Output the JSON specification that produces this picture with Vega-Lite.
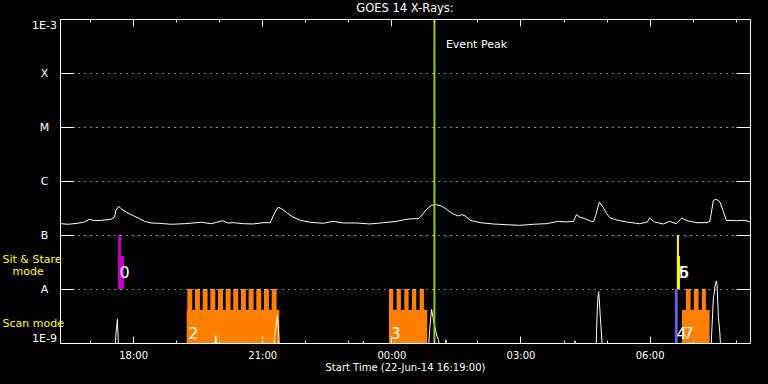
{
  "$schema": "https://vega.github.io/schema/vega-lite/v6.json",
  "autosize": {"type": "none"},
  "width": 690,
  "height": 324,
  "padding": {"left": 60, "top": 19, "right": 18, "bottom": 41},
  "background": "black",
  "title": {"text": "GOES 14 X-Rays:", "color": "white", "font": "DejaVu Sans", "fontSize": 11.5, "fontWeight": "normal", "frame": "group", "anchor": "middle", "offset": 4},
  "config": {
    "view": {"stroke": null},
    "axis": {"domainColor": "white", "tickColor": "white", "labelColor": "white", "labelFont": "DejaVu Sans", "titleFont": "DejaVu Sans", "titleColor": "white", "titleFontWeight": "normal", "domainWidth": 1, "tickWidth": 1}
  },
  "datasets": {
    "goes_long": [
      {"t": "2014-06-22T16:19:00Z", "f": 1.62e-7},
      {"t": "2014-06-22T16:29:00Z", "f": 1.58e-7},
      {"t": "2014-06-22T16:43:00Z", "f": 1.65e-7},
      {"t": "2014-06-22T16:52:00Z", "f": 1.74e-7},
      {"t": "2014-06-22T16:59:00Z", "f": 1.95e-7},
      {"t": "2014-06-22T17:06:00Z", "f": 1.84e-7},
      {"t": "2014-06-22T17:16:00Z", "f": 1.87e-7},
      {"t": "2014-06-22T17:29:00Z", "f": 1.95e-7},
      {"t": "2014-06-22T17:34:00Z", "f": 2.15e-7},
      {"t": "2014-06-22T17:36:00Z", "f": 2.86e-7},
      {"t": "2014-06-22T17:40:00Z", "f": 3.40e-7},
      {"t": "2014-06-22T17:43:00Z", "f": 3.07e-7},
      {"t": "2014-06-22T17:50:00Z", "f": 2.67e-7},
      {"t": "2014-06-22T17:57:00Z", "f": 2.38e-7},
      {"t": "2014-06-22T18:07:00Z", "f": 2.07e-7},
      {"t": "2014-06-22T18:16:00Z", "f": 1.79e-7},
      {"t": "2014-06-22T18:25:00Z", "f": 1.67e-7},
      {"t": "2014-06-22T18:35:00Z", "f": 1.65e-7},
      {"t": "2014-06-22T18:53:00Z", "f": 1.58e-7},
      {"t": "2014-06-22T19:12:00Z", "f": 1.62e-7},
      {"t": "2014-06-22T19:35:00Z", "f": 1.72e-7},
      {"t": "2014-06-22T19:49:00Z", "f": 1.62e-7},
      {"t": "2014-06-22T20:05:00Z", "f": 1.84e-7},
      {"t": "2014-06-22T20:12:00Z", "f": 1.67e-7},
      {"t": "2014-06-22T20:20:00Z", "f": 1.69e-7},
      {"t": "2014-06-22T20:33:00Z", "f": 1.62e-7},
      {"t": "2014-06-22T20:47:00Z", "f": 1.60e-7},
      {"t": "2014-06-22T21:01:00Z", "f": 1.69e-7},
      {"t": "2014-06-22T21:11:00Z", "f": 1.69e-7},
      {"t": "2014-06-22T21:14:00Z", "f": 2.07e-7},
      {"t": "2014-06-22T21:18:00Z", "f": 2.67e-7},
      {"t": "2014-06-22T21:22:00Z", "f": 3.26e-7},
      {"t": "2014-06-22T21:27:00Z", "f": 3.07e-7},
      {"t": "2014-06-22T21:34:00Z", "f": 2.59e-7},
      {"t": "2014-06-22T21:43:00Z", "f": 2.15e-7},
      {"t": "2014-06-22T21:53:00Z", "f": 1.87e-7},
      {"t": "2014-06-22T22:06:00Z", "f": 1.72e-7},
      {"t": "2014-06-22T22:25:00Z", "f": 1.65e-7},
      {"t": "2014-06-22T22:39:00Z", "f": 1.79e-7},
      {"t": "2014-06-22T22:53:00Z", "f": 1.67e-7},
      {"t": "2014-06-22T23:12:00Z", "f": 1.67e-7},
      {"t": "2014-06-22T23:30:00Z", "f": 1.60e-7},
      {"t": "2014-06-22T23:49:00Z", "f": 1.69e-7},
      {"t": "2014-06-23T00:07:00Z", "f": 1.79e-7},
      {"t": "2014-06-23T00:17:00Z", "f": 1.90e-7},
      {"t": "2014-06-23T00:26:00Z", "f": 2.00e-7},
      {"t": "2014-06-23T00:37:00Z", "f": 2.00e-7},
      {"t": "2014-06-23T00:42:00Z", "f": 2.25e-7},
      {"t": "2014-06-23T00:49:00Z", "f": 2.99e-7},
      {"t": "2014-06-23T00:56:00Z", "f": 3.55e-7},
      {"t": "2014-06-23T01:03:00Z", "f": 3.64e-7},
      {"t": "2014-06-23T01:10:00Z", "f": 3.44e-7},
      {"t": "2014-06-23T01:17:00Z", "f": 2.99e-7},
      {"t": "2014-06-23T01:26:00Z", "f": 2.45e-7},
      {"t": "2014-06-23T01:33:00Z", "f": 2.25e-7},
      {"t": "2014-06-23T01:38:00Z", "f": 2.38e-7},
      {"t": "2014-06-23T01:43:00Z", "f": 2.25e-7},
      {"t": "2014-06-23T01:50:00Z", "f": 1.87e-7},
      {"t": "2014-06-23T02:04:00Z", "f": 1.69e-7},
      {"t": "2014-06-23T02:22:00Z", "f": 1.60e-7},
      {"t": "2014-06-23T02:41:00Z", "f": 1.55e-7},
      {"t": "2014-06-23T02:59:00Z", "f": 1.51e-7},
      {"t": "2014-06-23T03:18:00Z", "f": 1.58e-7},
      {"t": "2014-06-23T03:36:00Z", "f": 1.62e-7},
      {"t": "2014-06-23T03:53:00Z", "f": 1.79e-7},
      {"t": "2014-06-23T04:04:00Z", "f": 1.74e-7},
      {"t": "2014-06-23T04:14:00Z", "f": 1.79e-7},
      {"t": "2014-06-23T04:18:00Z", "f": 2.38e-7},
      {"t": "2014-06-23T04:23:00Z", "f": 2.13e-7},
      {"t": "2014-06-23T04:30:00Z", "f": 2.00e-7},
      {"t": "2014-06-23T04:39:00Z", "f": 1.79e-7},
      {"t": "2014-06-23T04:42:00Z", "f": 1.79e-7},
      {"t": "2014-06-23T04:45:00Z", "f": 2.32e-7},
      {"t": "2014-06-23T04:50:00Z", "f": 4.08e-7},
      {"t": "2014-06-23T04:55:00Z", "f": 3.30e-7},
      {"t": "2014-06-23T05:00:00Z", "f": 2.48e-7},
      {"t": "2014-06-23T05:05:00Z", "f": 2.07e-7},
      {"t": "2014-06-23T05:14:00Z", "f": 1.90e-7},
      {"t": "2014-06-23T05:28:00Z", "f": 1.74e-7},
      {"t": "2014-06-23T05:46:00Z", "f": 1.62e-7},
      {"t": "2014-06-23T05:57:00Z", "f": 1.74e-7},
      {"t": "2014-06-23T06:00:00Z", "f": 2.07e-7},
      {"t": "2014-06-23T06:07:00Z", "f": 1.74e-7},
      {"t": "2014-06-23T06:19:00Z", "f": 1.60e-7},
      {"t": "2014-06-23T06:28:00Z", "f": 1.79e-7},
      {"t": "2014-06-23T06:37:00Z", "f": 1.62e-7},
      {"t": "2014-06-23T06:45:00Z", "f": 2.07e-7},
      {"t": "2014-06-23T06:52:00Z", "f": 1.84e-7},
      {"t": "2014-06-23T07:06:00Z", "f": 1.69e-7},
      {"t": "2014-06-23T07:20:00Z", "f": 1.69e-7},
      {"t": "2014-06-23T07:24:00Z", "f": 1.79e-7},
      {"t": "2014-06-23T07:29:00Z", "f": 4.40e-7},
      {"t": "2014-06-23T07:33:00Z", "f": 4.58e-7},
      {"t": "2014-06-23T07:38:00Z", "f": 4.08e-7},
      {"t": "2014-06-23T07:43:00Z", "f": 2.67e-7},
      {"t": "2014-06-23T07:47:00Z", "f": 1.87e-7},
      {"t": "2014-06-23T08:01:00Z", "f": 1.84e-7},
      {"t": "2014-06-23T08:13:00Z", "f": 1.87e-7},
      {"t": "2014-06-23T08:20:00Z", "f": 1.74e-7}
    ],
    "goes_short": [
      {"t": "2014-06-22T16:19:00Z", "f": 5e-10},
      {"t": "2014-06-22T17:34:00Z", "f": 5e-10},
      {"t": "2014-06-22T17:36:00Z", "f": 1.5e-9},
      {"t": "2014-06-22T17:37:00Z", "f": 2.0e-9},
      {"t": "2014-06-22T17:38:00Z", "f": 2.75e-9},
      {"t": "2014-06-22T17:39:00Z", "f": 1.3e-9},
      {"t": "2014-06-22T17:40:00Z", "f": 5e-10},
      {"t": "2014-06-22T19:53:00Z", "f": 5e-10},
      {"t": "2014-06-22T19:55:00Z", "f": 1.41e-9},
      {"t": "2014-06-22T19:56:00Z", "f": 1.1e-9},
      {"t": "2014-06-22T19:57:00Z", "f": 5e-10},
      {"t": "2014-06-22T21:15:00Z", "f": 5e-10},
      {"t": "2014-06-22T21:17:00Z", "f": 1.3e-9},
      {"t": "2014-06-22T21:19:00Z", "f": 2.0e-9},
      {"t": "2014-06-22T21:20:00Z", "f": 2.6e-9},
      {"t": "2014-06-22T21:21:00Z", "f": 3.16e-9},
      {"t": "2014-06-22T21:22:00Z", "f": 2.2e-9},
      {"t": "2014-06-22T21:23:00Z", "f": 1.5e-9},
      {"t": "2014-06-22T21:24:00Z", "f": 5e-10},
      {"t": "2014-06-22T23:20:00Z", "f": 5e-10},
      {"t": "2014-06-22T23:21:00Z", "f": 1.07e-9},
      {"t": "2014-06-22T23:22:00Z", "f": 5e-10},
      {"t": "2014-06-23T00:51:00Z", "f": 5e-10},
      {"t": "2014-06-23T00:53:00Z", "f": 1.5e-9},
      {"t": "2014-06-23T00:55:00Z", "f": 3.0e-9},
      {"t": "2014-06-23T00:56:00Z", "f": 4.2e-9},
      {"t": "2014-06-23T00:58:00Z", "f": 3.0e-9},
      {"t": "2014-06-23T01:00:00Z", "f": 2.2e-9},
      {"t": "2014-06-23T01:02:00Z", "f": 1.6e-9},
      {"t": "2014-06-23T01:04:00Z", "f": 1.3e-9},
      {"t": "2014-06-23T01:06:00Z", "f": 1.1e-9},
      {"t": "2014-06-23T01:08:00Z", "f": 5e-10},
      {"t": "2014-06-23T01:15:00Z", "f": 5e-10},
      {"t": "2014-06-23T01:16:00Z", "f": 1.15e-9},
      {"t": "2014-06-23T01:17:00Z", "f": 5e-10},
      {"t": "2014-06-23T04:15:00Z", "f": 5e-10},
      {"t": "2014-06-23T04:16:00Z", "f": 1.1e-9},
      {"t": "2014-06-23T04:17:00Z", "f": 5e-10},
      {"t": "2014-06-23T04:45:00Z", "f": 5e-10},
      {"t": "2014-06-23T04:46:00Z", "f": 1.5e-9},
      {"t": "2014-06-23T04:47:00Z", "f": 4e-9},
      {"t": "2014-06-23T04:48:00Z", "f": 7e-9},
      {"t": "2014-06-23T04:49:00Z", "f": 8.9e-9},
      {"t": "2014-06-23T04:50:00Z", "f": 6e-9},
      {"t": "2014-06-23T04:51:00Z", "f": 3.5e-9},
      {"t": "2014-06-23T04:52:00Z", "f": 2.2e-9},
      {"t": "2014-06-23T04:53:00Z", "f": 1.4e-9},
      {"t": "2014-06-23T04:55:00Z", "f": 5e-10},
      {"t": "2014-06-23T07:25:00Z", "f": 5e-10},
      {"t": "2014-06-23T07:27:00Z", "f": 2e-9},
      {"t": "2014-06-23T07:29:00Z", "f": 7e-9},
      {"t": "2014-06-23T07:30:00Z", "f": 8e-9},
      {"t": "2014-06-23T07:31:00Z", "f": 1.1e-8},
      {"t": "2014-06-23T07:33:00Z", "f": 1.41e-8},
      {"t": "2014-06-23T07:34:00Z", "f": 1.2e-8},
      {"t": "2014-06-23T07:35:00Z", "f": 6e-9},
      {"t": "2014-06-23T07:36:00Z", "f": 3e-9},
      {"t": "2014-06-23T07:38:00Z", "f": 1.5e-9},
      {"t": "2014-06-23T07:40:00Z", "f": 5e-10},
      {"t": "2014-06-23T08:20:00Z", "f": 5e-10}
    ],
    "obs": [
      {"t": "2014-06-22T17:39:00Z", "t2": "2014-06-22T17:43:00Z", "f": 1e-8, "f2": 1e-7, "grp": "sit1"},
      {"t": "2014-06-22T17:39:00Z", "t2": "2014-06-22T17:47:12Z", "f": 1e-8, "f2": 4.08e-8, "grp": "sit1"},
      {"t": "2014-06-22T19:14:36Z", "t2": "2014-06-22T21:23:42Z", "f": 1e-9, "f2": 4.08e-9, "grp": "scan"},
      {"t": "2014-06-22T19:15:30Z", "t2": "2014-06-22T19:22:24Z", "f": 1e-9, "f2": 1e-8, "grp": "scan"},
      {"t": "2014-06-22T19:26:12Z", "t2": "2014-06-22T19:33:06Z", "f": 1e-9, "f2": 1e-8, "grp": "scan"},
      {"t": "2014-06-22T19:36:54Z", "t2": "2014-06-22T19:43:48Z", "f": 1e-9, "f2": 1e-8, "grp": "scan"},
      {"t": "2014-06-22T19:47:36Z", "t2": "2014-06-22T19:54:30Z", "f": 1e-9, "f2": 1e-8, "grp": "scan"},
      {"t": "2014-06-22T19:58:18Z", "t2": "2014-06-22T20:05:12Z", "f": 1e-9, "f2": 1e-8, "grp": "scan"},
      {"t": "2014-06-22T20:09:00Z", "t2": "2014-06-22T20:15:54Z", "f": 1e-9, "f2": 1e-8, "grp": "scan"},
      {"t": "2014-06-22T20:19:36Z", "t2": "2014-06-22T20:26:30Z", "f": 1e-9, "f2": 1e-8, "grp": "scan"},
      {"t": "2014-06-22T20:30:18Z", "t2": "2014-06-22T20:37:12Z", "f": 1e-9, "f2": 1e-8, "grp": "scan"},
      {"t": "2014-06-22T20:41:00Z", "t2": "2014-06-22T20:47:54Z", "f": 1e-9, "f2": 1e-8, "grp": "scan"},
      {"t": "2014-06-22T20:51:42Z", "t2": "2014-06-22T20:58:36Z", "f": 1e-9, "f2": 1e-8, "grp": "scan"},
      {"t": "2014-06-22T21:02:24Z", "t2": "2014-06-22T21:09:18Z", "f": 1e-9, "f2": 1e-8, "grp": "scan"},
      {"t": "2014-06-22T21:13:06Z", "t2": "2014-06-22T21:20:00Z", "f": 1e-9, "f2": 1e-8, "grp": "scan"},
      {"t": "2014-06-22T23:56:36Z", "t2": "2014-06-23T00:50:00Z", "f": 1e-9, "f2": 4.08e-9, "grp": "scan"},
      {"t": "2014-06-22T23:56:36Z", "t2": "2014-06-23T00:02:36Z", "f": 1e-9, "f2": 1e-8, "grp": "scan"},
      {"t": "2014-06-23T00:07:18Z", "t2": "2014-06-23T00:13:18Z", "f": 1e-9, "f2": 1e-8, "grp": "scan"},
      {"t": "2014-06-23T00:18:00Z", "t2": "2014-06-23T00:24:00Z", "f": 1e-9, "f2": 1e-8, "grp": "scan"},
      {"t": "2014-06-23T00:28:42Z", "t2": "2014-06-23T00:34:42Z", "f": 1e-9, "f2": 1e-8, "grp": "scan"},
      {"t": "2014-06-23T00:39:24Z", "t2": "2014-06-23T00:45:24Z", "f": 1e-9, "f2": 1e-8, "grp": "scan"},
      {"t": "2014-06-23T06:35:18Z", "t2": "2014-06-23T06:39:06Z", "f": 1e-9, "f2": 1e-8, "grp": "other"},
      {"t": "2014-06-23T06:38:06Z", "t2": "2014-06-23T06:40:54Z", "f": 1e-8, "f2": 1e-7, "grp": "sit2"},
      {"t": "2014-06-23T06:38:06Z", "t2": "2014-06-23T06:42:18Z", "f": 1e-8, "f2": 4.08e-8, "grp": "sit2"},
      {"t": "2014-06-23T06:45:06Z", "t2": "2014-06-23T07:23:42Z", "f": 1e-9, "f2": 4.08e-9, "grp": "scan"},
      {"t": "2014-06-23T06:50:36Z", "t2": "2014-06-23T06:57:12Z", "f": 1e-9, "f2": 1e-8, "grp": "scan"},
      {"t": "2014-06-23T07:01:48Z", "t2": "2014-06-23T07:08:18Z", "f": 1e-9, "f2": 1e-8, "grp": "scan"},
      {"t": "2014-06-23T07:12:54Z", "t2": "2014-06-23T07:18:30Z", "f": 1e-9, "f2": 1e-8, "grp": "scan"}
    ],
    "labels": [
      {"t": "2014-06-22T17:39:00Z", "txt": "0", "mode": "sit"},
      {"t": "2014-06-22T19:14:36Z", "txt": "2", "mode": "scan"},
      {"t": "2014-06-22T23:56:36Z", "txt": "3", "mode": "scan"},
      {"t": "2014-06-23T06:35:18Z", "txt": "4", "mode": "scan"},
      {"t": "2014-06-23T06:38:06Z", "txt": "5", "mode": "sit"},
      {"t": "2014-06-23T06:39:00Z", "txt": "6", "mode": "sit"},
      {"t": "2014-06-23T06:45:06Z", "txt": "7", "mode": "scan"}
    ],
    "event": [
      {"t": "2014-06-23T01:00:00Z", "label": "Event Peak"}
    ]
  },
  "encoding": {
    "x": {
      "field": "t", "type": "temporal",
      "scale": {"type": "utc", "nice": false, "domain": [
        {"year": 2014, "month": 6, "date": 22, "hours": 16, "minutes": 18, "utc": true},
        {"year": 2014, "month": 6, "date": 23, "hours": 8, "minutes": 20, "utc": true}
      ]},
      "axis": null
    }
  },
  "layer": [
    {
      "data": {"name": "obs"},
      "mark": {"type": "rect", "strokeWidth": 0},
      "encoding": {
        "x2": {"field": "t2"},
        "y": {"field": "f", "type": "quantitative", "scale": {"type": "log", "domain": [1e-9, 1e-3], "nice": false}, "axis": null},
        "y2": {"field": "f2"},
        "color": {"field": "grp", "type": "nominal", "legend": null, "scale": {"domain": ["sit1", "scan", "other", "sit2"], "range": ["#c800c8", "#ff8000", "#6464f0", "#ffff00"]}}
      }
    },
    {
      "data": {"name": "goes_long"},
      "mark": {"type": "line", "color": "white", "strokeWidth": 1, "clip": true},
      "encoding": {
        "x": {
          "field": "t", "type": "temporal",
          "scale": {"type": "utc", "nice": false, "domain": [
            {"year": 2014, "month": 6, "date": 22, "hours": 16, "minutes": 18, "utc": true},
            {"year": 2014, "month": 6, "date": 23, "hours": 8, "minutes": 20, "utc": true}
          ]},
          "axis": {
            "orient": "bottom",
            "zindex": 1,
            "values": [
              {"year": 2014, "month": 6, "date": 22, "hours": 17, "utc": true},
              {"year": 2014, "month": 6, "date": 22, "hours": 18, "utc": true},
              {"year": 2014, "month": 6, "date": 22, "hours": 19, "utc": true},
              {"year": 2014, "month": 6, "date": 22, "hours": 20, "utc": true},
              {"year": 2014, "month": 6, "date": 22, "hours": 21, "utc": true},
              {"year": 2014, "month": 6, "date": 22, "hours": 22, "utc": true},
              {"year": 2014, "month": 6, "date": 22, "hours": 23, "utc": true},
              {"year": 2014, "month": 6, "date": 23, "hours": 0, "utc": true},
              {"year": 2014, "month": 6, "date": 23, "hours": 1, "utc": true},
              {"year": 2014, "month": 6, "date": 23, "hours": 2, "utc": true},
              {"year": 2014, "month": 6, "date": 23, "hours": 3, "utc": true},
              {"year": 2014, "month": 6, "date": 23, "hours": 4, "utc": true},
              {"year": 2014, "month": 6, "date": 23, "hours": 5, "utc": true},
              {"year": 2014, "month": 6, "date": 23, "hours": 6, "utc": true},
              {"year": 2014, "month": 6, "date": 23, "hours": 7, "utc": true},
              {"year": 2014, "month": 6, "date": 23, "hours": 8, "utc": true}
            ],
            "labelExpr": "utchours(datum.value) % 3 == 0 ? utcFormat(datum.value, '%H:%M') : ''",
            "tickSize": {"condition": {"test": "utchours(datum.value) % 3 == 0", "value": -7}, "value": -3},
            "labelPadding": 14,
            "labelFontSize": 10,
            "labelFlush": false,
            "labelOverlap": false,
            "grid": false,
            "title": "Start Time (22-Jun-14 16:19:00)",
            "titleFontSize": 10,
            "titlePadding": -2
          }
        },
        "y": {
          "field": "f", "type": "quantitative",
          "scale": {"type": "log", "domain": [1e-9, 1e-3], "nice": false},
          "axis": {
            "orient": "left",
            "zindex": 1,
            "title": null,
            "values": [1e-9, 2.25e-9, 1e-8, 2.15e-8, 3.59e-8, 1e-7, 1e-6, 1e-5, 1e-4, 1e-3],
            "labelExpr": "datum.value < 1.5e-9 ? '1E-9' : datum.value < 5e-9 ? 'Scan mode' : datum.value < 1.5e-8 ? 'A' : datum.value < 3e-8 ? 'mode' : datum.value < 5e-8 ? 'Sit & Stare' : datum.value < 1.5e-7 ? 'B' : datum.value < 1.5e-6 ? 'C' : datum.value < 1.5e-5 ? 'M' : datum.value < 1.5e-4 ? 'X' : '1E-3'",
            "labelColor": {"condition": {"test": "(datum.value > 1.5e-9 && datum.value < 5e-9) || (datum.value > 1.5e-8 && datum.value < 5e-8)", "value": "#ffff00"}, "value": "#ffffff"},
            "labelAlign": {"condition": {"test": "(datum.value > 1.5e-9 && datum.value < 5e-9) || (datum.value > 1.5e-8 && datum.value < 5e-8)", "value": "left"}, "value": "center"},
            "labelPadding": {"condition": [
              {"test": "datum.value > 1.5e-8 && datum.value < 3e-8", "value": 62},
              {"test": "(datum.value > 1.5e-9 && datum.value < 5e-9) || (datum.value > 3e-8 && datum.value < 5e-8)", "value": 72}
            ], "value": 30},
            "labelFontSize": 11,
            "labelFlush": true,
            "labelOverlap": false,
            "tickSize": -14,
            "tickColor": {"condition": {"test": "(datum.value > 1.5e-9 && datum.value < 5e-9) || (datum.value > 1.5e-8 && datum.value < 5e-8)", "value": "transparent"}, "value": "#ffffff"},
            "grid": true,
            "gridColor": "#ffffff",
            "gridDash": [1, 5],
            "gridWidth": 1,
            "gridOpacity": {"condition": {"test": "(datum.value > 1.5e-9 && datum.value < 5e-9) || (datum.value > 1.5e-8 && datum.value < 5e-8)", "value": 0}, "value": 1}
          }
        }
      }
    },
    {
      "data": {"name": "goes_short"},
      "mark": {"type": "line", "color": "white", "strokeWidth": 1, "clip": true},
      "encoding": {
        "y": {"field": "f", "type": "quantitative", "scale": {"type": "log", "domain": [1e-9, 1e-3], "nice": false}, "axis": null}
      }
    },
    {
      "data": {"name": "labels"},
      "transform": [{"filter": "datum.mode == 'scan'"}],
      "mark": {"type": "text", "align": "left", "baseline": "alphabetic", "dx": 1.5, "color": "white", "font": "DejaVu Sans", "fontSize": 16},
      "encoding": {
        "text": {"field": "txt"},
        "y": {"datum": 1.19e-9, "type": "quantitative", "scale": {"type": "log", "domain": [1e-9, 1e-3], "nice": false}, "axis": null}
      }
    },
    {
      "data": {"name": "labels"},
      "transform": [{"filter": "datum.mode == 'sit'"}],
      "mark": {"type": "text", "align": "left", "baseline": "alphabetic", "dx": 1.5, "color": "white", "font": "DejaVu Sans", "fontSize": 16},
      "encoding": {
        "text": {"field": "txt"},
        "y": {"datum": 1.6e-8, "type": "quantitative", "scale": {"type": "log", "domain": [1e-9, 1e-3], "nice": false}, "axis": null}
      }
    },
    {
      "data": {"name": "event"},
      "mark": {"type": "rule", "color": "#99cc00", "strokeWidth": 2},
      "encoding": {}
    },
    {
      "data": {"name": "event"},
      "mark": {"type": "text", "align": "left", "baseline": "alphabetic", "dx": 11.5, "color": "white", "font": "DejaVu Sans", "fontSize": 11},
      "encoding": {
        "text": {"field": "label"},
        "y": {"datum": 2.94e-4, "type": "quantitative", "scale": {"type": "log", "domain": [1e-9, 1e-3], "nice": false}, "axis": null}
      }
    },
    {
      "data": {"name": "goes_long"},
      "mark": {"type": "line", "opacity": 0},
      "encoding": {
        "x": {
          "field": "t", "type": "temporal",
          "scale": {"type": "utc", "nice": false, "domain": [
            {"year": 2014, "month": 6, "date": 22, "hours": 16, "minutes": 18, "utc": true},
            {"year": 2014, "month": 6, "date": 23, "hours": 8, "minutes": 20, "utc": true}
          ]},
          "axis": {
            "orient": "top",
            "zindex": 1,
            "values": [
              {"year": 2014, "month": 6, "date": 22, "hours": 17, "utc": true},
              {"year": 2014, "month": 6, "date": 22, "hours": 18, "utc": true},
              {"year": 2014, "month": 6, "date": 22, "hours": 19, "utc": true},
              {"year": 2014, "month": 6, "date": 22, "hours": 20, "utc": true},
              {"year": 2014, "month": 6, "date": 22, "hours": 21, "utc": true},
              {"year": 2014, "month": 6, "date": 22, "hours": 22, "utc": true},
              {"year": 2014, "month": 6, "date": 22, "hours": 23, "utc": true},
              {"year": 2014, "month": 6, "date": 23, "hours": 0, "utc": true},
              {"year": 2014, "month": 6, "date": 23, "hours": 1, "utc": true},
              {"year": 2014, "month": 6, "date": 23, "hours": 2, "utc": true},
              {"year": 2014, "month": 6, "date": 23, "hours": 3, "utc": true},
              {"year": 2014, "month": 6, "date": 23, "hours": 4, "utc": true},
              {"year": 2014, "month": 6, "date": 23, "hours": 5, "utc": true},
              {"year": 2014, "month": 6, "date": 23, "hours": 6, "utc": true},
              {"year": 2014, "month": 6, "date": 23, "hours": 7, "utc": true},
              {"year": 2014, "month": 6, "date": 23, "hours": 8, "utc": true}
            ],
            "tickSize": {"condition": {"test": "utchours(datum.value) % 3 == 0", "value": -7}, "value": -3},
            "labels": false,
            "grid": false,
            "title": null
          }
        },
        "y": {
          "field": "f", "type": "quantitative",
          "scale": {"type": "log", "domain": [1e-9, 1e-3], "nice": false},
          "axis": {
            "orient": "right",
            "zindex": 1,
            "values": [1e-8, 1e-7, 1e-6, 1e-5, 1e-4],
            "tickSize": -14,
            "labels": false,
            "grid": false,
            "title": null
          }
        }
      }
    }
  ],
  "resolve": {"axis": {"x": "independent", "y": "independent"}}
}
